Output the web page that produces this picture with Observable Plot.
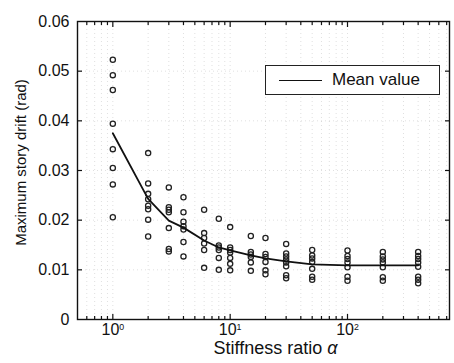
<!DOCTYPE html>
<html><head><meta charset="utf-8">
<script src="https://cdn.jsdelivr.net/npm/d3@7"></script>
<script src="https://cdn.jsdelivr.net/npm/@observablehq/plot@0.6"></script>
<style>
body{margin:0;background:#fff;}
#wrap{position:relative;width:454px;height:363px;font-family:"Liberation Sans",Arial,sans-serif;color:#111;}
#legend{position:absolute;left:265px;top:65px;width:173px;height:28px;border:1.5px solid #222;background:#fff;}
#legend .ln{position:absolute;left:13px;top:14px;width:43px;height:0;border-top:1.8px solid #111;}
#legend .tx{position:absolute;left:66px;top:4px;font-size:17px;line-height:20px;white-space:nowrap;}
</style></head>
<body><div id="wrap"></div>
<script>
const stiffness = [1, 2, 3, 4, 6, 8, 10, 15, 20, 30, 50, 100, 200, 400];
const drift1 = [0.0523, 0.0492, 0.0462, 0.0394, 0.0343, 0.0305, 0.0272, 0.0206];
const drift2 = [0.0335, 0.0274, 0.0253, 0.0242, 0.0229, 0.0222, 0.0201, 0.0167];
const drift3 = [0.0266, 0.0226, 0.0221, 0.0216, 0.0184, 0.0142, 0.0137];
const drift4 = [0.0246, 0.0216, 0.0197, 0.0188, 0.0181, 0.0156, 0.0127];
const drift6 = [0.0221, 0.0174, 0.0164, 0.0153, 0.0140, 0.0104];
const drift8 = [0.0203, 0.0149, 0.0145, 0.0140, 0.0124, 0.0100];
const drift10 = [0.0186, 0.0145, 0.0140, 0.0135, 0.0124, 0.0112, 0.0099];
const drift15 = [0.0168, 0.0136, 0.0131, 0.0126, 0.0115, 0.0098];
const drift20 = [0.0164, 0.0132, 0.0126, 0.0116, 0.0099, 0.0091];
const drift30 = [0.0152, 0.0133, 0.0127, 0.0121, 0.0115, 0.0107, 0.0089, 0.0083];
const drift50 = [0.0140, 0.0129, 0.0123, 0.0116, 0.0102, 0.0086, 0.0080];
const drift100 = [0.0139, 0.0128, 0.0122, 0.0115, 0.0105, 0.0086, 0.0078];
const drift200 = [0.0136, 0.0127, 0.0121, 0.0115, 0.0105, 0.0085, 0.0078];
const drift400 = [0.0136, 0.0128, 0.0122, 0.0115, 0.0106, 0.0086, 0.0080, 0.0073];
const driftByStiffness = [drift1, drift2, drift3, drift4, drift6, drift8, drift10, drift15, drift20, drift30, drift50, drift100, drift200, drift400];
const meanDrift = [0.0375, 0.0243, 0.0199, 0.0185, 0.0159, 0.0145, 0.0139, 0.0129, 0.0123, 0.0117, 0.0111, 0.0109, 0.0109, 0.0109];

const xMajorTicks = [1, 10, 100];
const xTickLabels = ["10^0", "10^1", "10^2"];
const xMinorTicks = [0.6, 0.7, 0.8, 0.9, 2, 3, 4, 5, 6, 7, 8, 9, 20, 30, 40, 50, 60, 70, 80, 90, 200, 300, 400, 500, 600, 700];
const yTicks = [0, 0.01, 0.02, 0.03, 0.04, 0.05, 0.06];
const yTickLabels = ["0", "0.01", "0.02", "0.03", "0.04", "0.05", "0.06"];
const yInnerTicks = [0.01, 0.02, 0.03, 0.04, 0.05];
const xTitle = "Stiffness ratio α";
const yTitle = "Maximum story drift (rad)";
const legendLabel = "Mean value";

const points = stiffness.flatMap((s, i) => driftByStiffness[i].map(v => ({s, v})));
const meanData = stiffness.map((s, i) => ({s, v: meanDrift[i]}));

const gridStyle = {stroke: "#999", strokeOpacity: 0.3, strokeDasharray: "1,3"};
const tickStyle = {stroke: "#111", strokeWidth: 1.2, fill: "none", label: null};

const chart = Plot.plot({
  width: 454, height: 363,
  marginLeft: 77, marginRight: 5, marginTop: 21, marginBottom: 44,
  style: {fontFamily: "'Liberation Sans', Arial, sans-serif", fontSize: "16px", color: "#111", background: "#fff"},
  x: {type: "log", domain: [0.5, 740], label: null},
  y: {domain: [0, 0.06], label: null},
  marks: [
    Plot.gridX(xMajorTicks.concat(xMinorTicks), gridStyle),
    Plot.gridY(yInnerTicks, gridStyle),
    Plot.axisX(xMajorTicks, {anchor: "bottom", tickSize: 0, tickPadding: 4, fontSize: 16, label: null,
      tickFormat: d => xTickLabels[xMajorTicks.indexOf(d)]}),
    Plot.axisY(yTicks, {anchor: "left", tickSize: 0, tickPadding: 8, fontSize: 16, label: null,
      tickFormat: d => yTickLabels[yTicks.indexOf(d)]}),
    Plot.axisX(xMajorTicks, {anchor: "bottom", tickSize: -5, ...tickStyle}),
    Plot.axisX(xMajorTicks, {anchor: "top", tickSize: -5, ...tickStyle}),
    Plot.axisX(xMinorTicks, {anchor: "bottom", tickSize: -3, ...tickStyle}),
    Plot.axisX(xMinorTicks, {anchor: "top", tickSize: -3, ...tickStyle}),
    Plot.axisY(yInnerTicks, {anchor: "left", tickSize: -5, ...tickStyle}),
    Plot.axisY(yInnerTicks, {anchor: "right", tickSize: -5, ...tickStyle}),
    Plot.dot(points, {x: "s", y: "v", r: 2.6, stroke: "#222", strokeWidth: 1.3, fill: "none"}),
    Plot.line(meanData, {x: "s", y: "v", stroke: "#111", strokeWidth: 1.8}),
    Plot.frame({stroke: "#111", strokeWidth: 1.4}),
    Plot.text([xTitle], {text: d => d, frameAnchor: "bottom", lineAnchor: "middle", textAnchor: "middle", dx: 12, dy: 29, fontSize: 18, fill: "#111"}),
    Plot.text([yTitle], {text: d => d, frameAnchor: "left", rotate: -90, lineAnchor: "middle", textAnchor: "middle", dx: -56, dy: -8, fontSize: 15, fill: "#111"})
  ]
});

// superscript exponents and italic alpha
d3.select(chart).selectAll("text").each(function() {
  const t = d3.select(this);
  const s = this.textContent;
  const m = /^10\^(\d)$/.exec(s);
  if (m) {
    t.text(null);
    t.append("tspan").text("10");
    t.append("tspan").attr("dy", "-0.5em").attr("font-size", "0.55em").text(m[1]);
  } else if (s === xTitle) {
    t.text(null);
    t.append("tspan").text("Stiffness ratio ");
    t.append("tspan").attr("font-style", "italic").text("α");
  }
});

const wrap = document.getElementById("wrap");
wrap.appendChild(chart);
const legend = document.createElement("div");
legend.id = "legend";
legend.innerHTML = '<div class="ln"></div><div class="tx"></div>';
legend.querySelector(".tx").textContent = legendLabel;
wrap.appendChild(legend);
</script>
</body></html>
